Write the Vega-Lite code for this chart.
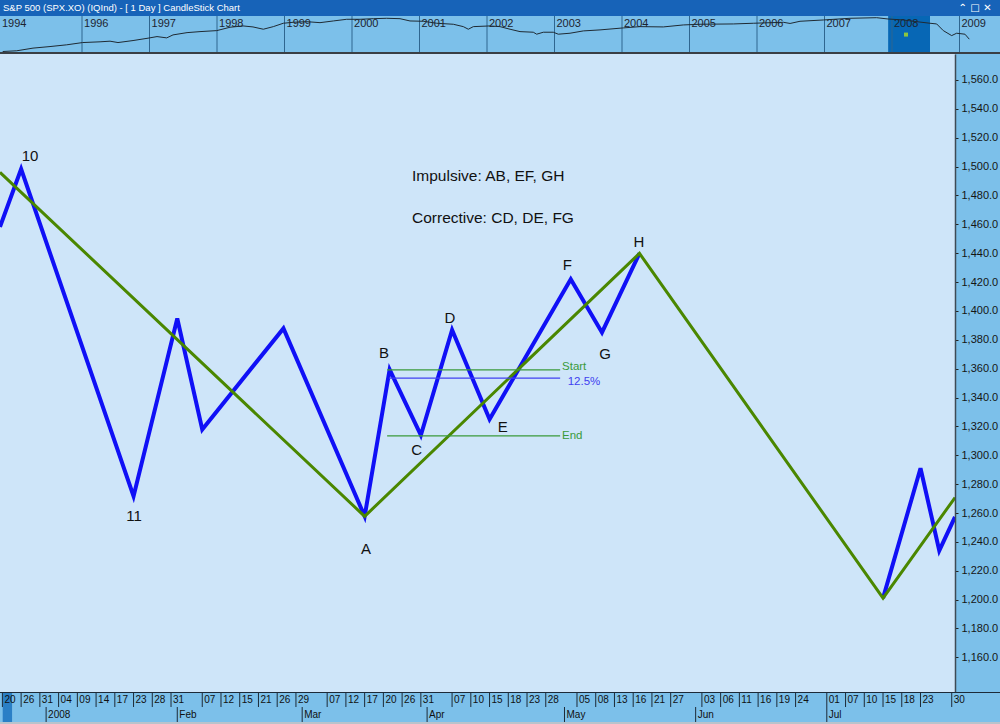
{
  "$schema": "https://vega.github.io/schema/vega-lite/v6.json",
  "padding": 0,
  "background": "#7cc0ea",
  "spacing": 0,
  "bounds": "flush",
  "config": {
    "view": {"stroke": null},
    "font": "Liberation Sans",
    "text": {"font": "Liberation Sans"}
  },
  "datasets": {
    "sp": [
      {"yr": 1994.825, "v": 460}, {"yr": 1995.033, "v": 472}, {"yr": 1995.274, "v": 519}, {"yr": 1995.526, "v": 549},
      {"yr": 1995.773, "v": 584}, {"yr": 1996.010, "v": 633}, {"yr": 1996.267, "v": 650}, {"yr": 1996.415, "v": 665},
      {"yr": 1996.533, "v": 633}, {"yr": 1996.756, "v": 680}, {"yr": 1996.978, "v": 740}, {"yr": 1997.111, "v": 783},
      {"yr": 1997.255, "v": 748}, {"yr": 1997.348, "v": 832}, {"yr": 1997.556, "v": 902}, {"yr": 1997.748, "v": 935},
      {"yr": 1997.996, "v": 969}, {"yr": 1998.193, "v": 1093}, {"yr": 1998.385, "v": 1145}, {"yr": 1998.533, "v": 1105},
      {"yr": 1998.686, "v": 1018}, {"yr": 1998.834, "v": 1117}, {"yr": 1998.982, "v": 1260}, {"yr": 1999.130, "v": 1305},
      {"yr": 1999.329, "v": 1333}, {"yr": 1999.526, "v": 1287}, {"yr": 1999.723, "v": 1367}, {"yr": 1999.921, "v": 1451},
      {"yr": 2000.119, "v": 1451}, {"yr": 2000.316, "v": 1483}, {"yr": 2000.514, "v": 1504}, {"yr": 2000.711, "v": 1483},
      {"yr": 2000.859, "v": 1367}, {"yr": 2001.056, "v": 1352}, {"yr": 2001.255, "v": 1260}, {"yr": 2001.501, "v": 1216},
      {"yr": 2001.649, "v": 1117}, {"yr": 2001.723, "v": 1018}, {"yr": 2001.797, "v": 1117}, {"yr": 2002.044, "v": 1145},
      {"yr": 2002.193, "v": 1117}, {"yr": 2002.341, "v": 1018}, {"yr": 2002.489, "v": 935}, {"yr": 2002.686, "v": 915},
      {"yr": 2002.736, "v": 853}, {"yr": 2002.834, "v": 915}, {"yr": 2002.982, "v": 915}, {"yr": 2003.056, "v": 853},
      {"yr": 2003.230, "v": 883}, {"yr": 2003.427, "v": 959}, {"yr": 2003.674, "v": 994}, {"yr": 2004.019, "v": 1067},
      {"yr": 2004.267, "v": 1117}, {"yr": 2004.612, "v": 1105}, {"yr": 2004.908, "v": 1186}, {"yr": 2005.156, "v": 1216},
      {"yr": 2005.649, "v": 1229}, {"yr": 2005.945, "v": 1260}, {"yr": 2006.390, "v": 1305}, {"yr": 2006.490, "v": 1251},
      {"yr": 2006.637, "v": 1352}, {"yr": 2006.982, "v": 1416}, {"yr": 2007.378, "v": 1504}, {"yr": 2007.773, "v": 1536},
      {"yr": 2007.941, "v": 1467}, {"yr": 2008.167, "v": 1416}, {"yr": 2008.366, "v": 1333}, {"yr": 2008.563, "v": 1260},
      {"yr": 2008.662, "v": 1229}, {"yr": 2008.760, "v": 969}, {"yr": 2008.884, "v": 811}, {"yr": 2008.958, "v": 883},
      {"yr": 2009.081, "v": 853}, {"yr": 2009.145, "v": 714}
    ],
    "years": [
      {"yr": 1996, "label": "1996"}, {"yr": 1997, "label": "1997"}, {"yr": 1998, "label": "1998"},
      {"yr": 1999, "label": "1999"}, {"yr": 2000, "label": "2000"}, {"yr": 2001, "label": "2001"},
      {"yr": 2002, "label": "2002"}, {"yr": 2003, "label": "2003"}, {"yr": 2004, "label": "2004"},
      {"yr": 2005, "label": "2005"}, {"yr": 2006, "label": "2006"}, {"yr": 2007, "label": "2007"},
      {"yr": 2008, "label": "2008"}, {"yr": 2009, "label": "2009"}
    ],
    "blue": [
      {"t": -0.384, "price": 1458.2, "seg": "a"}, {"t": 3, "price": 1498.3, "seg": "a"},
      {"t": 21, "price": 1271.6, "seg": "a"}, {"t": 28, "price": 1394.8, "seg": "a"},
      {"t": 32, "price": 1317.9, "seg": "a"}, {"t": 45, "price": 1387.9, "seg": "a"},
      {"t": 58, "price": 1257.7, "seg": "a"}, {"t": 62, "price": 1359.4, "seg": "a"},
      {"t": 67, "price": 1313.9, "seg": "a"}, {"t": 72, "price": 1386.8, "seg": "a"},
      {"t": 78, "price": 1325.0, "seg": "a"}, {"t": 91, "price": 1422.0, "seg": "a"},
      {"t": 96, "price": 1385.1, "seg": "a"}, {"t": 102, "price": 1439.9, "seg": "a"},
      {"t": 141, "price": 1201.0, "seg": "b"}, {"t": 147, "price": 1291.0, "seg": "b"},
      {"t": 150, "price": 1234.0, "seg": "b"}, {"t": 152.52, "price": 1257.3, "seg": "b"}
    ],
    "green": [
      {"t": -0.384, "price": 1496.0}, {"t": 58, "price": 1257.7}, {"t": 102, "price": 1439.9},
      {"t": 141, "price": 1201.0}, {"t": 152.52, "price": 1270.7}
    ],
    "levels": [
      {"level": "Start", "t": 61.6, "t2": 89.3, "price": 1359.2},
      {"level": "12.5%", "t": 61.9, "t2": 89.3, "price": 1353.5},
      {"level": "End", "t": 61.6, "t2": 89.3, "price": 1313.4}
    ],
    "tags": [
      {"level": "Start", "t": 89.6, "price": 1361.0},
      {"level": "12.5%", "t": 90.5, "price": 1351.0},
      {"level": "End", "t": 89.6, "price": 1313.2}
    ],
    "pointLabels": [
      {"label": "10", "t": 4.42, "price": 1507.6}, {"label": "11", "t": 21.07, "price": 1257.9},
      {"label": "A", "t": 58.22, "price": 1235.1}, {"label": "B", "t": 61.1, "price": 1371.1},
      {"label": "C", "t": 66.33, "price": 1303.6}, {"label": "D", "t": 71.67, "price": 1395.1},
      {"label": "E", "t": 80.11, "price": 1319.4}, {"label": "F", "t": 90.45, "price": 1431.8},
      {"label": "G", "t": 96.48, "price": 1370.2}, {"label": "H", "t": 101.93, "price": 1448.0}
    ],
    "notes": [
      {"label": "Impulsive: AB, EF, GH", "t": 65.58, "price": 1493.5},
      {"label": "Corrective: CD, DE, FG", "t": 65.58, "price": 1464.4}
    ],
    "days": [
      {"t": 0, "d": "20"}, {"t": 3, "d": "26"}, {"t": 6, "d": "31"}, {"t": 9, "d": "04"}, {"t": 12, "d": "09"},
      {"t": 15, "d": "14"}, {"t": 18, "d": "17"}, {"t": 21, "d": "23"}, {"t": 24, "d": "28"}, {"t": 27, "d": "31"},
      {"t": 32, "d": "07"}, {"t": 35, "d": "12"}, {"t": 38, "d": "15"}, {"t": 41, "d": "21"}, {"t": 44, "d": "26"},
      {"t": 47, "d": "29"}, {"t": 52, "d": "07"}, {"t": 55, "d": "12"}, {"t": 58, "d": "17"}, {"t": 61, "d": "20"},
      {"t": 64, "d": "26"}, {"t": 67, "d": "31"}, {"t": 72, "d": "07"}, {"t": 75, "d": "10"}, {"t": 78, "d": "15"},
      {"t": 81, "d": "18"}, {"t": 84, "d": "23"}, {"t": 87, "d": "28"}, {"t": 92, "d": "05"}, {"t": 95, "d": "08"},
      {"t": 98, "d": "13"}, {"t": 101, "d": "16"}, {"t": 104, "d": "21"}, {"t": 107, "d": "27"}, {"t": 112, "d": "03"},
      {"t": 115, "d": "06"}, {"t": 118, "d": "11"}, {"t": 121, "d": "16"}, {"t": 124, "d": "19"}, {"t": 127, "d": "24"},
      {"t": 132, "d": "01"}, {"t": 135, "d": "07"}, {"t": 138, "d": "10"}, {"t": 141, "d": "15"}, {"t": 144, "d": "18"},
      {"t": 147, "d": "23"}, {"t": 152, "d": "30"}
    ],
    "months": [
      {"t": 7, "m": "2008"}, {"t": 28, "m": "Feb"}, {"t": 48, "m": "Mar"}, {"t": 68, "m": "Apr"},
      {"t": 90, "m": "May"}, {"t": 111, "m": "Jun"}, {"t": 132, "m": "Jul"}
    ],
    "thumb": [{"t": 0.05, "t2": 1.55}],
    "span": [{"a": 0, "b": 1}]
  },
  "vconcat": [
    {
      "width": 1000,
      "height": 16,
      "view": {"fill": "#1763b8", "stroke": null},
      "data": {"values": [{"label": "S&P 500 (SPX.XO) (IQInd) -  [ 1 Day ] CandleStick Chart", "icons": "⌃   □   ✕"}]},
      "layer": [
        {
          "mark": {"type": "text", "align": "left", "baseline": "middle", "color": "white", "fontSize": 9.5, "x": 3, "y": 8},
          "encoding": {"text": {"field": "label"}}
        },
        {
          "mark": {"type": "text", "align": "center", "baseline": "middle", "color": "white", "fontSize": 10, "fontWeight": "bold", "font": "DejaVu Sans", "x": 975, "y": 8},
          "encoding": {"text": {"field": "icons"}}
        }
      ]
    },
    {
      "width": 1000,
      "height": 36,
      "view": {"fill": "#7cc0ea", "stroke": null},
      "layer": [
        {
          "data": {"values": [{"yr": 2007.943, "yr2": 2008.563}]},
          "mark": {"type": "rect", "color": "#0767b5"},
          "encoding": {
            "x": {"field": "yr", "type": "quantitative", "scale": {"domain": [1994.785, 2009.6], "nice": false, "zero": false}, "axis": null},
            "x2": {"field": "yr2"}
          }
        },
        {
          "data": {"name": "years"},
          "mark": {"type": "rule", "color": "#2f6690", "strokeWidth": 1},
          "encoding": {"x": {"field": "yr", "type": "quantitative"}}
        },
        {
          "data": {"name": "years"},
          "mark": {"type": "text", "align": "left", "baseline": "middle", "dx": 2, "dy": -10, "fontSize": 11, "color": "#1c2430"},
          "encoding": {"x": {"field": "yr", "type": "quantitative"}, "text": {"field": "label"}}
        },
        {
          "data": {"values": [{"yr": 1994.785, "label": "1994"}]},
          "mark": {"type": "text", "align": "left", "baseline": "middle", "dx": 2, "dy": -10, "fontSize": 11, "color": "#1c2430"},
          "encoding": {"x": {"field": "yr", "type": "quantitative"}, "text": {"field": "label"}}
        },
        {
          "data": {"name": "sp"},
          "mark": {"type": "line", "color": "#1f2a33", "strokeWidth": 1},
          "encoding": {
            "x": {"field": "yr", "type": "quantitative"},
            "y": {"field": "v", "type": "quantitative", "scale": {"type": "log", "domain": [452, 1632], "nice": false, "zero": false}, "axis": null}
          }
        },
        {
          "data": {"values": [{"yr": 2008.207, "v": 841}]},
          "mark": {"type": "square", "filled": true, "color": "#8cc63f", "size": 16, "opacity": 1},
          "encoding": {"x": {"field": "yr", "type": "quantitative"}, "y": {"field": "v", "type": "quantitative"}}
        }
      ]
    },
    {
      "width": 1000,
      "height": 2,
      "data": {"name": "span"},
      "mark": {"type": "rect", "color": "#3a3f45"},
      "encoding": {
        "x": {"field": "a", "type": "quantitative", "scale": {"domain": [0, 1], "nice": false}, "axis": null},
        "x2": {"field": "b"}
      }
    },
    {
      "width": 955,
      "height": 638,
      "view": {"fill": "#cee5f9", "stroke": null},
      "encoding": {
        "x": {"field": "t", "type": "quantitative", "scale": {"domain": [-0.384, 152.52], "nice": false, "zero": false}, "axis": null},
        "y": {"field": "price", "type": "quantitative", "scale": {"domain": [1136, 1578], "nice": false, "zero": false},
          "axis": {"orient": "right", "title": null, "grid": false, "values": [1160, 1180, 1200, 1220, 1240, 1260, 1280, 1300, 1320, 1340, 1360, 1380, 1400, 1420, 1440, 1460, 1480, 1500, 1520, 1540, 1560],
            "format": ",.1f", "tickSize": 3, "tickColor": "#222222", "domainColor": "#3d4a55", "domainWidth": 1.5, "labelPadding": 3,
            "labelColor": "#151515", "labelFont": "Liberation Sans", "labelFontSize": 11, "labelOverlap": false, "zindex": 1}}
      },
      "layer": [
        {
          "data": {"name": "blue"},
          "mark": {"type": "line", "color": "#1010f6", "strokeWidth": 4, "clip": true},
          "encoding": {"detail": {"field": "seg", "type": "nominal"}}
        },
        {
          "data": {"name": "green"},
          "mark": {"type": "line", "color": "#4a8700", "strokeWidth": 3, "clip": true},
          "encoding": {}
        },
        {
          "data": {"name": "levels"},
          "mark": {"type": "rule", "strokeWidth": 1.3},
          "encoding": {
            "x2": {"field": "t2"},
            "color": {"field": "level", "type": "nominal", "scale": {"domain": ["Start", "12.5%", "End"], "range": ["#3a9a3a", "#4040f0", "#3a9a3a"]}, "legend": null}
          }
        },
        {
          "data": {"name": "tags"},
          "mark": {"type": "text", "align": "left", "baseline": "middle", "fontSize": 11.5},
          "encoding": {
            "text": {"field": "level"},
            "color": {"field": "level", "type": "nominal", "legend": null}
          }
        },
        {
          "data": {"name": "pointLabels"},
          "mark": {"type": "text", "align": "center", "baseline": "middle", "fontSize": 15, "color": "#111111"},
          "encoding": {"text": {"field": "label"}}
        },
        {
          "data": {"name": "notes"},
          "mark": {"type": "text", "align": "left", "baseline": "middle", "fontSize": 15.5, "color": "#111111"},
          "encoding": {"text": {"field": "label"}}
        }
      ]
    },
    {
      "width": 1000,
      "height": 1,
      "data": {"name": "span"},
      "mark": {"type": "rect", "color": "#1c2a38"},
      "encoding": {
        "x": {"field": "a", "type": "quantitative", "scale": {"domain": [0, 1], "nice": false}, "axis": null},
        "x2": {"field": "b"}
      }
    },
    {
      "width": 1000,
      "height": 14,
      "view": {"fill": "#7cc0ea", "stroke": null},
      "layer": [
        {
          "data": {"name": "thumb"},
          "mark": {"type": "rect", "color": "#2a7fc6"},
          "encoding": {
            "x": {"field": "t", "type": "quantitative", "scale": {"domain": [-0.384, 159.73], "nice": false, "zero": false}, "axis": null},
            "x2": {"field": "t2"}
          }
        },
        {
          "data": {"name": "days"},
          "mark": {"type": "rule", "color": "#1c2a38", "strokeWidth": 1},
          "encoding": {"x": {"field": "t", "type": "quantitative"}}
        },
        {
          "data": {"name": "days"},
          "mark": {"type": "text", "align": "left", "baseline": "middle", "dx": 2, "fontSize": 10, "color": "#111111"},
          "encoding": {"x": {"field": "t", "type": "quantitative"}, "text": {"field": "d"}}
        }
      ]
    },
    {
      "width": 1000,
      "height": 15,
      "view": {"fill": "#7cc0ea", "stroke": null},
      "layer": [
        {
          "data": {"name": "thumb"},
          "mark": {"type": "rect", "color": "#2a7fc6"},
          "encoding": {
            "x": {"field": "t", "type": "quantitative", "scale": {"domain": [-0.384, 159.73], "nice": false, "zero": false}, "axis": null},
            "x2": {"field": "t2"}
          }
        },
        {
          "data": {"name": "months"},
          "mark": {"type": "rule", "color": "#1c2a38", "strokeWidth": 1},
          "encoding": {"x": {"field": "t", "type": "quantitative"}}
        },
        {
          "data": {"name": "months"},
          "mark": {"type": "text", "align": "left", "baseline": "middle", "dx": 2, "fontSize": 10, "color": "#111111"},
          "encoding": {"x": {"field": "t", "type": "quantitative"}, "text": {"field": "m"}}
        }
      ]
    },
    {
      "width": 1000,
      "height": 2,
      "data": {"name": "span"},
      "mark": {"type": "rect", "color": "#b9c3cc"},
      "encoding": {
        "x": {"field": "a", "type": "quantitative", "scale": {"domain": [0, 1], "nice": false}, "axis": null},
        "x2": {"field": "b"}
      }
    }
  ]
}
